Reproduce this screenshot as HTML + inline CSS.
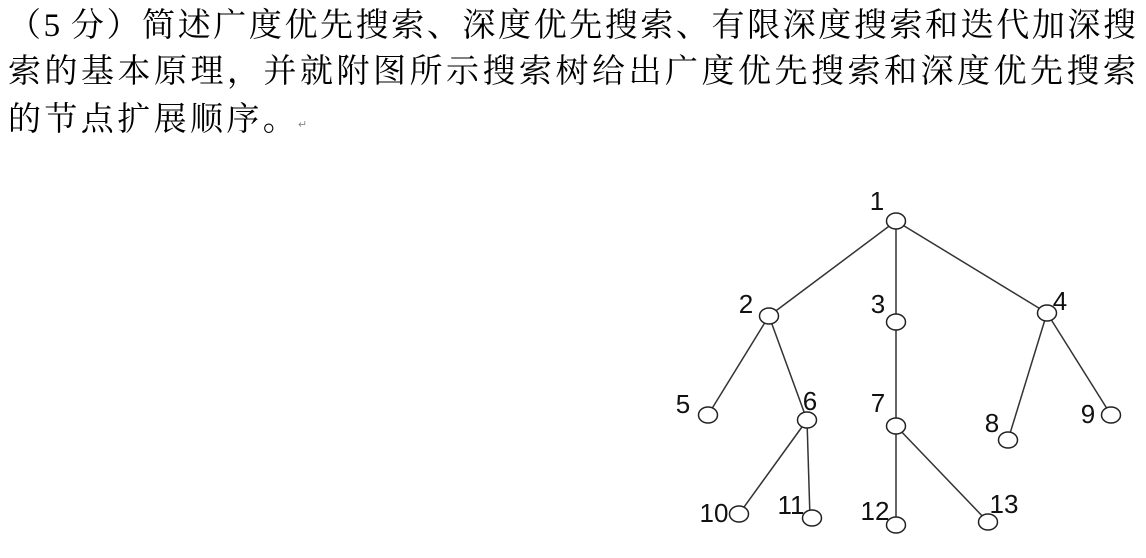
<!DOCTYPE html>
<html><head><meta charset="utf-8"><style>
body{margin:0;width:1146px;height:558px;background:#fff;overflow:hidden;position:relative;font-family:"Liberation Serif","Noto Serif CJK SC","WenQuanYi Zen Hei",serif;color:#000}
.l{position:absolute;left:8px;width:1128px;font-size:33px;line-height:40px;white-space:nowrap;text-align:justify;text-align-last:justify}
.l3{text-align:left;text-align-last:left;letter-spacing:3.4px}
</style></head><body>
<div class="l" style="top:6px">（5 分）简述广度优先搜索、深度优先搜索、有限深度搜索和迭代加深搜</div>
<div class="l" style="top:52px">索的基本原理，并就附图所示搜索树给出广度优先搜索和深度优先搜索</div>
<div class="l l3" style="top:100px">的节点扩展顺序。</div>
<div style="position:absolute;left:298px;top:118px;font-size:11px;color:#888">↵</div>
<svg width="1146" height="558" style="position:absolute;left:0;top:0" font-family="Liberation Sans, sans-serif" font-size="26">
<g stroke="#333" stroke-width="1.5" fill="none">
<line x1="896" y1="221" x2="769" y2="316"/>
<line x1="896" y1="221" x2="896" y2="322"/>
<line x1="896" y1="221" x2="1047" y2="313"/>
<line x1="769" y1="316" x2="708" y2="415"/>
<line x1="769" y1="316" x2="807" y2="420"/>
<line x1="896" y1="322" x2="896" y2="426"/>
<line x1="1047" y1="313" x2="1008" y2="440"/>
<line x1="1047" y1="313" x2="1111" y2="415"/>
<line x1="807" y1="420" x2="739" y2="514"/>
<line x1="807" y1="420" x2="810" y2="518"/>
<line x1="896" y1="426" x2="896" y2="525"/>
<line x1="896" y1="426" x2="988" y2="522"/>
</g>
<g stroke="#222" stroke-width="1.5" fill="#fff">
<ellipse cx="896" cy="221" rx="9.5" ry="8"/>
<ellipse cx="769" cy="316" rx="9.5" ry="8"/>
<ellipse cx="896" cy="322" rx="9.5" ry="8"/>
<ellipse cx="1047" cy="313" rx="9.5" ry="8"/>
<ellipse cx="708" cy="415" rx="9.5" ry="8"/>
<ellipse cx="807" cy="420" rx="9.5" ry="8"/>
<ellipse cx="896" cy="426" rx="9.5" ry="8"/>
<ellipse cx="1008" cy="440" rx="9.5" ry="8"/>
<ellipse cx="1111" cy="415" rx="9.5" ry="8"/>
<ellipse cx="739" cy="514" rx="9.5" ry="8"/>
<ellipse cx="812" cy="518" rx="9.5" ry="8"/>
<ellipse cx="896" cy="525" rx="9.5" ry="8"/>
<ellipse cx="988" cy="522" rx="9.5" ry="8"/>
</g>
<g fill="#111" text-anchor="middle">
<text x="877" y="210">1</text>
<text x="746" y="313">2</text>
<text x="878" y="313">3</text>
<text x="1060" y="310">4</text>
<text x="683" y="413">5</text>
<text x="810" y="410">6</text>
<text x="878" y="412">7</text>
<text x="992" y="432">8</text>
<text x="1088" y="423">9</text>
<text x="714" y="522">10</text>
<text x="791" y="514">11</text>
<text x="875" y="520">12</text>
<text x="1004" y="513">13</text>
</g>
</svg>
</body></html>
